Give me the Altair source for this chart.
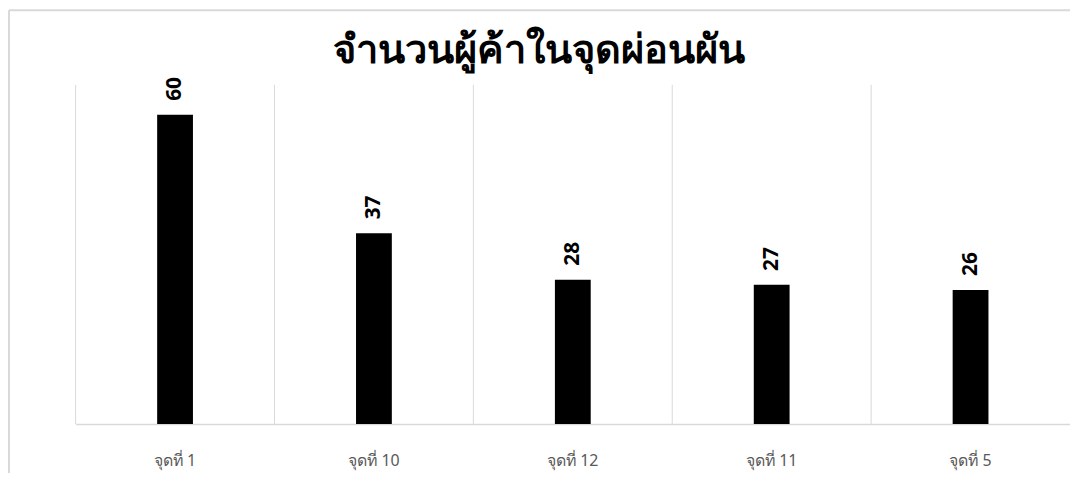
import altair as alt
import pandas as pd

categories = ["จุดที่ 1", "จุดที่ 10", "จุดที่ 12", "จุดที่ 11", "จุดที่ 5"]
vendors = [60, 37, 28, 27, 26]
title_text = "จำนวนผู้ค้าในจุดผ่อนผัน"

df = pd.DataFrame({"cat": categories, "n": vendors})
W, H = 1000, 341

x_axis = alt.Axis(title=None, ticks=False, grid=False, domainColor="#d9d9d9",
                  domainWidth=1.5, labelAngle=0, labelFont="Noto Sans",
                  labelFontSize=16, labelColor="#595959", labelPadding=29)
x = alt.X("cat:N", sort=categories,
          scale=alt.Scale(paddingInner=0, paddingOuter=0), axis=x_axis)
y = alt.Y("n:Q", scale=alt.Scale(domain=[0, 65.8], nice=False, zero=True), axis=None)

base = alt.Chart(df)
grid = base.mark_rule(color="#d9d9d9", strokeWidth=1).encode(
    x=alt.X("cat:N", sort=categories, bandPosition=0, axis=x_axis)
)
bars = base.mark_bar(color="black", width=36).encode(x=x, y=y)
labels = base.mark_text(angle=270, align="left", baseline="middle", dx=14,
                        font="Open Sans", fontSize=21, fontWeight="bold",
                        color="black").encode(x=x, y=y, text="n:Q")

tdf = pd.DataFrame({"t": [title_text]})
title = alt.Chart(tdf).mark_text(fontSize=40, fontWeight="bold", color="black",
                                 align="center", baseline="alphabetic").encode(
    x=alt.value(466), y=alt.value(-22), text="t:N")

bdf = pd.DataFrame({"k": [0]})
left_border = alt.Chart(bdf).mark_rule(color="#d9d9d9", strokeWidth=2).encode(
    x=alt.value(-67), y=alt.value(-75), y2=alt.value(420))
top_border = alt.Chart(bdf).mark_rule(color="#d9d9d9", strokeWidth=2).encode(
    x=alt.value(-67), x2=alt.value(1010), y=alt.value(-75))

chart = alt.layer(grid, bars, labels, title, left_border, top_border).properties(
    width=W, height=H,
    padding={"left": 68, "top": 76, "right": 0, "bottom": 48},
    autosize="none",
).configure(background="white").configure_view(stroke=None)

chart.save("out.html", embed_options={"renderer": "svg", "actions": False})
